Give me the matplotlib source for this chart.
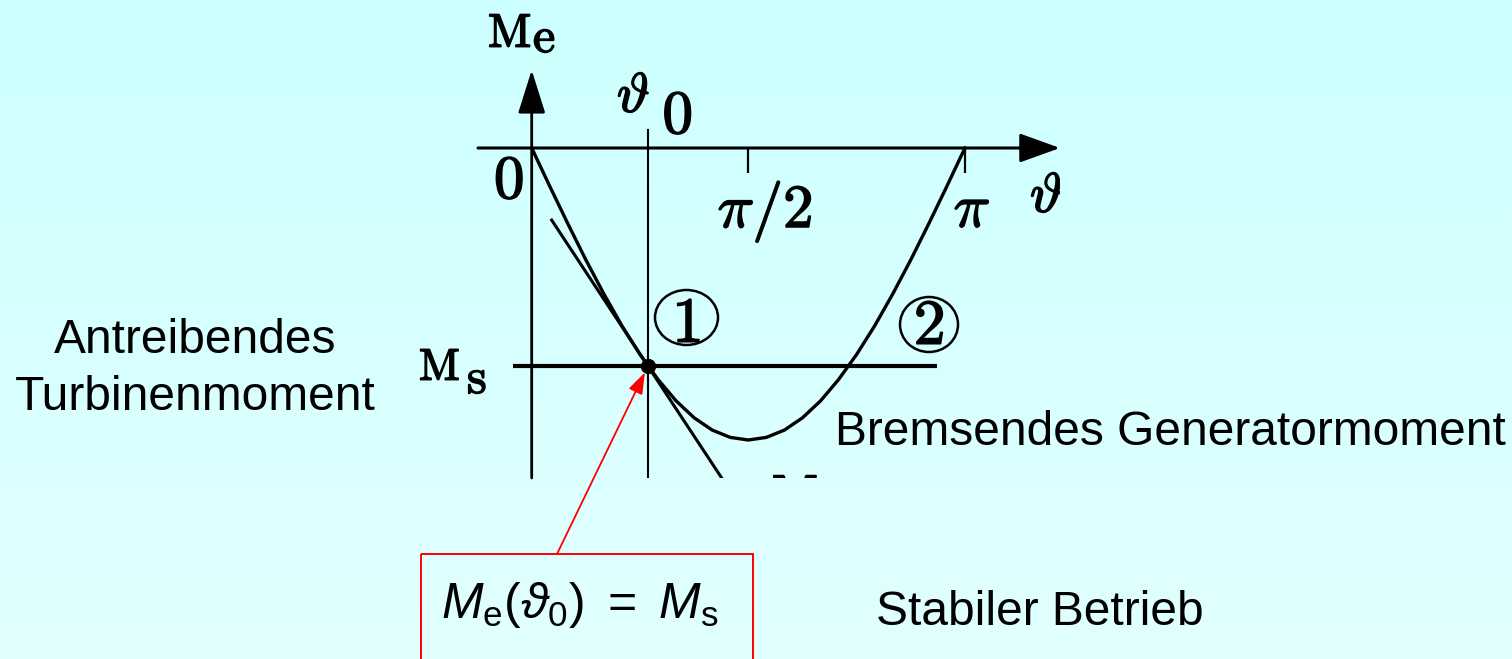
import numpy as np
import matplotlib
matplotlib.use("Agg")
import matplotlib.pyplot as plt
from matplotlib.patches import Rectangle, Ellipse, ArrowStyle
import matplotlib.patheffects as pe

plt.rcParams["font.family"] = ["Liberation Sans", "DejaVu Sans"]
plt.rcParams["mathtext.fontset"] = "custom"
plt.rcParams["mathtext.rm"] = "Liberation Sans"
plt.rcParams["mathtext.it"] = "Liberation Sans:italic"
plt.rcParams["mathtext.fallback"] = "cm"

# ---------------- data ----------------
theta = np.linspace(0, np.pi, 25)                       # load angle samples
M_e = np.array([0.0, -0.131, -0.259, -0.383, -0.500, -0.609, -0.707, -0.793,
                -0.866, -0.924, -0.966, -0.991, -1.0, -0.991, -0.966, -0.924,
                -0.866, -0.793, -0.707, -0.609, -0.500, -0.383, -0.259, -0.131, 0.0])
theta0 = 0.843            # stable operating angle
M_s = -0.747              # turbine torque level
tangent_theta = [0.145, 1.40]
tangent_M = [-0.247, -1.146]
tick_pos = [np.pi / 2, np.pi]
tick_labels = [r"$\pi/2$", r"$\pi$"]
Ms_line_theta = [-0.136, 2.939]

# ---------------- figure ----------------
W, H = 1512, 659
fig = plt.figure(figsize=(W / 100, H / 100), dpi=100)

bg = fig.add_axes([0, 0, 1, 1])
bg.set_xlim(0, W)
bg.set_ylim(H, 0)
bg.axis("off")
top = np.array([0.80, 1.0, 1.0])
bot = np.array([0.885, 1.0, 1.0])
t = np.linspace(0, 1, 256)[:, None, None]
grad = top * (1 - t) + bot * t
bg.imshow(grad, extent=[0, W, H, 0], aspect="auto", zorder=0)

# diagram axes (pixel box 478..1060 x 5..478)
ax = fig.add_axes([478 / W, (H - 478) / H, 582 / W, 473 / H])
ax.set_xlim(-0.3894, 3.831)
ax.set_ylim(-1.1301, 0.4897)
ax.axis("off")
ax.patch.set_visible(False)

k = "black"
# axes with arrows
ax.annotate("", xy=(3.831, 0), xytext=(-0.3894, 0),
            arrowprops=dict(arrowstyle=ArrowStyle("-|>", head_length=2.5, head_width=0.9),
                            mutation_scale=10, lw=2.2, color=k, shrinkA=0, shrinkB=0))
ax.annotate("", xy=(0, 0.267), xytext=(0, -1.1301),
            arrowprops=dict(arrowstyle=ArrowStyle("-|>", head_length=2.7, head_width=0.85),
                            mutation_scale=10, lw=2.0, color=k, shrinkA=0, shrinkB=0))
# theta0 vertical line
ax.plot([theta0, theta0], [0.0616, -1.1301], color=k, lw=1.5)
# ticks
ax.vlines(tick_pos, -0.0856, 0, color=k, lw=1.6)
# M_s line
ax.plot(Ms_line_theta, [M_s, M_s], color=k, lw=3.0, solid_capstyle="butt")
# curve and tangent
ax.plot(theta, M_e, color=k, lw=2.4)
ax.plot(tangent_theta, tangent_M, color=k, lw=2.2)
ax.plot([theta0], [M_s], "o", color=k, ms=10, zorder=5)

# ---------------- labels (pixel coordinates) ----------------
stroke = [pe.withStroke(linewidth=1.1, foreground="black")]


def cm(x, y, s, size, ha="center", clip=False):
    txt = bg.text(x, y, s, fontsize=size, ha=ha, va="baseline", color=k,
                  math_fontfamily="cm", path_effects=stroke, zorder=6)
    if clip:
        txt.set_clip_path(ax.patch)
        txt.set_clip_on(True)
    return txt


cm(488, 47, r"$\mathrm{M}$", 34, ha="left")
cm(533, 52, r"$\mathrm{e}$", 36, ha="left")
cm(633.5, 112, r"$\vartheta$", 40)
cm(677.5, 133, r"$\mathrm{0}$", 44)
cm(509, 198, r"$\mathrm{0}$", 44)
cm(765, 227, tick_labels[0], 44)
cm(972, 227, tick_labels[1], 44)
cm(1030, 212, r"$\vartheta$", 40, ha="left", clip=True)
cm(419, 380, r"$\mathrm{M}$", 32, ha="left")
cm(467, 393, r"$\mathrm{s}$", 36, ha="left")
cm(772, 510, r"$\mathrm{M}$", 36, ha="left", clip=True)

# circled markers
for (cx, cy, w, h, d, base) in [(686.5, 317.5, 63, 55, "1", 342),
                                (929, 324.5, 58, 55, "2", 344)]:
    bg.add_patch(Ellipse((cx, cy), w, h, fill=False, ec=k, lw=1.8, zorder=6))
    cm(cx, base, r"$\mathrm{%s}$" % d, 46)

# sans-serif texts
fs = 34.5
bg.text(195, 353, "Antreibendes", fontsize=fs, ha="center", va="baseline")
bg.text(195, 410, "Turbinenmoment", fontsize=fs, ha="center", va="baseline")
bg.text(835, 445, "Bremsendes Generatormoment", fontsize=fs, ha="left", va="baseline")
bg.text(1040, 625, "Stabiler Betrieb", fontsize=fs, ha="center", va="baseline")

# red box with formula
bg.add_patch(Rectangle((421, 554), 332, 130, fill=False, ec="red", lw=1.4, zorder=6))
bg.text(580, 618, r"$M_{\mathrm{e}}(\vartheta_{\mathrm{0}})\ =\ M_{\mathrm{s}}$",
        fontsize=36, ha="center", va="baseline", zorder=7)

# red arrow from box to operating point
ax.annotate("", xy=(theta0, M_s), xycoords="data",
            xytext=(557, H - 554), textcoords="figure pixels",
            arrowprops=dict(arrowstyle=ArrowStyle("-|>", head_length=1.3, head_width=0.45),
                            mutation_scale=10, lw=1.3, color="red",
                            shrinkA=0, shrinkB=5),
            annotation_clip=False)

fig.savefig("out.png", dpi=100)
